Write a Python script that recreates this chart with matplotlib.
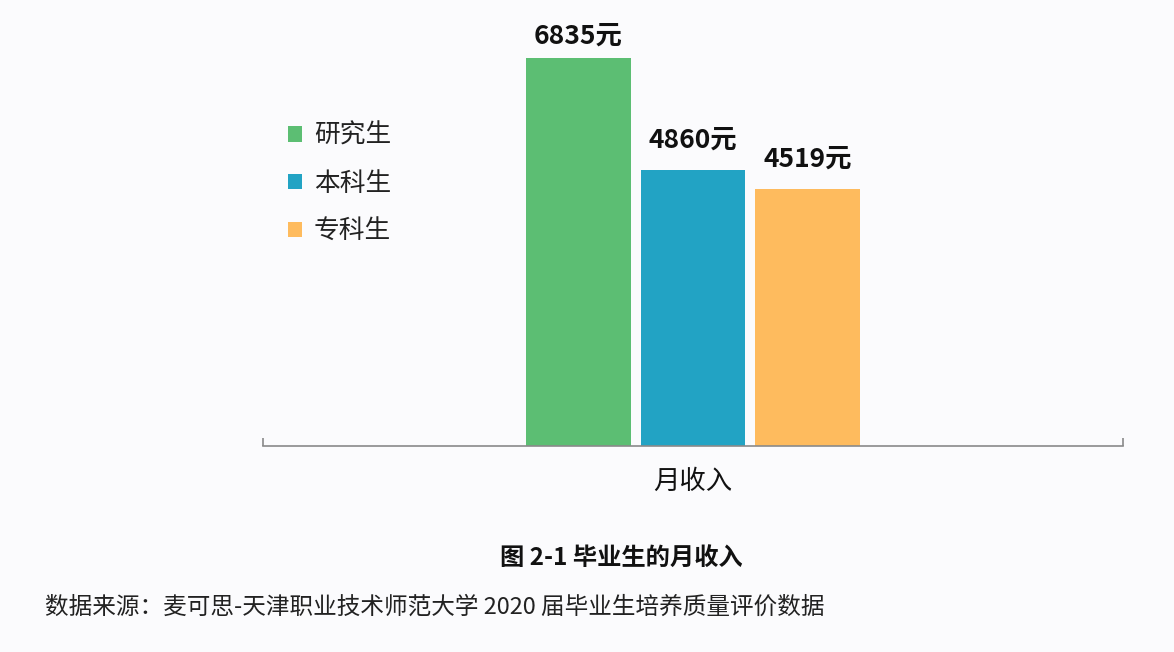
import matplotlib
matplotlib.use("Agg")
import matplotlib.pyplot as plt

plt.rcParams['font.family'] = ['Noto Sans CJK SC', 'DejaVu Sans']

# --- data ---
groups = ['研究生', '本科生', '专科生']
income = [6835, 4860, 4519]
value_labels = ['6835元', '4860元', '4519元']
category = '月收入'
caption = '图 2-1 毕业生的月收入'
source = '数据来源：麦可思-天津职业技术师范大学 2020 届毕业生培养质量评价数据'

colors = ['#5cbe73', '#22a3c4', '#febb5e']
bg = '#fbfbfd'
W, H = 1174, 652

fig = plt.figure(figsize=(W / 100, H / 100), dpi=100, facecolor=bg)
ax = fig.add_axes([263 / W, 1 - 446 / H, 860 / W, 425.8 / H], facecolor=bg)

xs = [-1, 0, 1]
for x, v, c, g in zip(xs, income, colors, groups):
    ax.bar(x, v, width=0.91, color=c, label=g, zorder=2)

# value labels above the bars
pads = [10, 16.5, 16.5]
for x, v, t, p in zip(xs, income, value_labels, pads):
    ax.annotate(t, (x, v), xytext=(0, p), textcoords='offset points',
                ha='center', va='baseline', fontsize=19, fontweight='bold',
                color='#111111')

ax.set_xlim(-430 / 114.5, 430 / 114.5)
ax.set_ylim(0, 7500)

for s in ['top', 'left', 'right']:
    ax.spines[s].set_visible(False)
ax.spines['bottom'].set_color('#8a8a8a')
ax.spines['bottom'].set_linewidth(1.2)
ax.set_yticks([])
ax.set_xticks(ax.get_xlim())
ax.set_xticklabels([])
ax.tick_params(axis='x', direction='in', length=6, width=1.2, color='#8a8a8a')

ax.set_xlabel(category, fontsize=19, labelpad=12, color='#111111')

ax.legend(loc='upper left', bbox_to_anchor=(288 / W, 1 - 123 / H),
          bbox_transform=fig.transFigure, frameon=False, fontsize=18.5,
          handlelength=0.55, handleheight=0.55, handletextpad=0.45,
          labelspacing=0.85, borderpad=0, borderaxespad=0,
          labelcolor='#222222')

fig.text(621 / W, 1 - 558 / H, caption, ha='center', va='center',
         fontsize=17.5, fontweight='bold', color='#111111')
fig.text(45 / W, 1 - 607 / H, source, ha='left', va='center',
         fontsize=17, color='#222222')

fig.savefig('out.png', dpi=100, facecolor=bg)
